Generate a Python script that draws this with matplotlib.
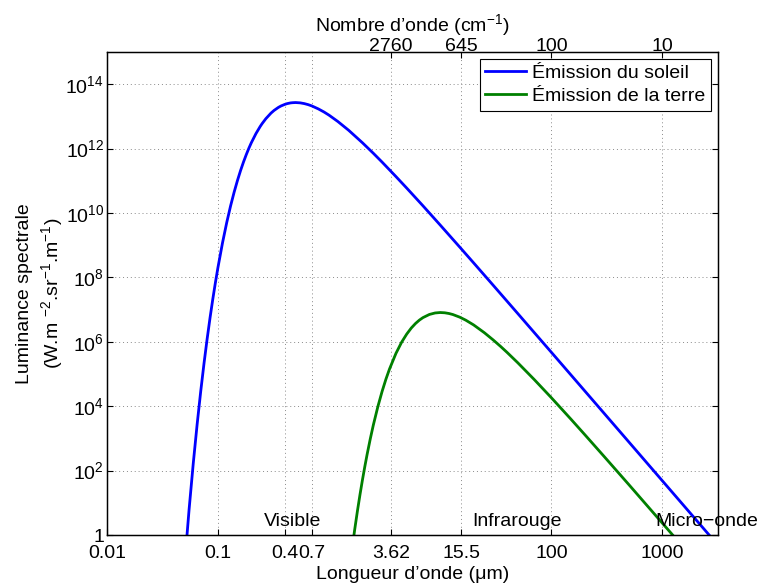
import matplotlib
matplotlib.use("Agg")
import matplotlib.pyplot as plt
from matplotlib.ticker import FixedLocator, FixedFormatter, NullLocator

plt.rcParams['font.family'] = ['Liberation Sans', 'DejaVu Sans']
plt.rcParams['mathtext.fontset'] = 'custom'
plt.rcParams['mathtext.rm'] = 'Liberation Sans'
plt.rcParams['mathtext.it'] = 'Liberation Sans:italic'
plt.rcParams['mathtext.bf'] = 'Liberation Sans:bold'

# Sun emission (T ~ 5800 K), wavelength in micrometres, radiance in W.m-2.sr-1.m-1
sun_wl = [0.05, 0.055, 0.06, 0.065, 0.07, 0.075, 0.08, 0.085, 0.09, 0.095, 0.1,
          0.11, 0.12, 0.13, 0.14, 0.15, 0.16, 0.17, 0.18, 0.19, 0.2, 0.22, 0.24,
          0.25, 0.27, 0.3, 0.32, 0.35, 0.37, 0.4, 0.42, 0.45, 0.47, 0.5, 0.55, 0.6,
          0.65, 0.7, 0.8, 0.9, 1.0, 1.2, 1.5, 2, 2.5, 3, 4, 5, 7, 10, 15, 20, 30,
          50, 70, 100, 150, 200, 300, 500, 1000, 1500, 2000, 3000]
sun_L = [0.108, 6.11, 169, 2730, 2.88e4, 2.17e5, 1.24e6, 5.68e6, 2.16e7, 7.03e7,
         2.01e8, 1.19e9, 5.04e9, 1.66e10, 4.47e10, 1.03e11, 2.10e11, 3.86e11,
         6.52e11, 1.03e12, 1.53e12, 2.93e12, 4.85e12, 5.98e12, 8.49e12, 1.26e13,
         1.53e13, 1.90e13, 2.11e13, 2.36e13, 2.49e13, 2.62e13, 2.66e13, 2.69e13,
         2.63e13, 2.49e13, 2.31e13, 2.11e13, 1.71e13, 1.37e13, 1.09e13, 6.93e12,
         3.71e12, 1.51e12, 7.18e11, 3.81e11, 1.35e11, 5.93e10, 1.67e10, 4.23e9,
         8.72e8, 2.82e8, 5.69e7, 7.49e6, 1.96e6, 4.74e5, 9.40e4, 2.98e4, 5.90e3,
         766, 47.9, 9.47, 3.00, 0.593]

# Earth emission (T ~ 288 K)
earth_wl = [1.6, 1.7, 1.8, 1.9, 2, 2.1, 2.2, 2.35, 2.5, 2.75, 3, 3.25, 3.5, 4, 4.5,
            5, 5.5, 6, 6.5, 7, 8, 9, 10, 11, 12, 13, 15, 17, 20, 25, 30, 35, 40,
            50, 70, 100, 150, 200, 300, 500, 1000, 1500]
earth_L = [0.313, 1.45, 5.57, 18.3, 52.8, 136, 318, 972, 2.56e3, 9.76e3, 2.87e4,
           6.93e4, 1.43e5, 4.38e5, 9.74e5, 1.74e6, 2.69e6, 3.71e6, 4.72e6, 5.64e6,
           7.07e6, 7.86e6, 8.11e6, 7.96e6, 7.56e6, 7.03e6, 5.82e6, 4.69e6, 3.34e6,
           1.91e6, 1.14e6, 7.16e5, 4.68e5, 2.22e5, 6.80e4, 1.84e4, 3.97e3, 1.31e3,
           270, 36.3, 2.32, 0.463]

xticks = [0.01, 0.1, 0.4, 0.7, 3.62, 15.5, 100, 1000]
xtick_labels = ['0.01', '0.1', '0.4', '0.7', '3.62', '15.5', '100', '1000']
wavenumbers = [2760, 645, 100, 10]
wavenumber_labels = ['2760', '645', '100', '10']
yticks = [1, 1e2, 1e4, 1e6, 1e8, 1e10, 1e12, 1e14]
ytick_labels = ['1'] + [r'$10^{%d}$' % e for e in [2, 4, 6, 8, 10, 12, 14]]

region_labels = ['Visible', 'Infrarouge', 'Micro\u2212onde']
region_x = [0.47, 49, 2500]

fs = 14
fig = plt.figure(figsize=(7.59, 5.86), dpi=100)
ax = fig.add_axes([0.1407, 0.0870, 0.8053, 0.8243])
ax.set_xscale('log')
ax.set_yscale('log')
ax.plot(sun_wl, sun_L, color=(0, 0, 1), lw=2, label='Émission du soleil')
ax.plot(earth_wl, earth_L, color=(0, 0.5, 0), lw=2, label='Émission de la terre')
ax.set_xlim(0.01, 10 ** 3.5)
ax.set_ylim(1, 1e15)

ax.xaxis.set_major_locator(FixedLocator(xticks))
ax.xaxis.set_major_formatter(FixedFormatter(xtick_labels))
ax.xaxis.set_minor_locator(NullLocator())
ax.yaxis.set_major_locator(FixedLocator(yticks))
ax.yaxis.set_major_formatter(FixedFormatter(ytick_labels))
ax.yaxis.set_minor_locator(NullLocator())
ax.tick_params(axis='both', which='major', direction='in', length=4, width=0.8,
               labelsize=fs, pad=2)
ax.tick_params(axis='x', pad=7)
ax.tick_params(axis='y', right=True)
ax.grid(True, which='major', linestyle=(0, (1, 3)), color='#8a8a8a', lw=0.7)

for sp in ax.spines.values():
    sp.set_linewidth(1.0)

ax.set_xlabel('Longueur d\u2019onde (\u03bcm)', fontsize=fs, labelpad=3)
ax.set_ylabel('Luminance spectrale\n(W.m $^{-2}$.sr$^{-1}$.m$^{-1}$)', fontsize=fs,
              linespacing=1.35)
ax.yaxis.set_label_coords(-0.068, 0.5)

for txt, xv in zip(region_labels, region_x):
    ax.text(xv, 1.9, txt, ha='center', va='baseline', fontsize=fs, clip_on=False)

ax2 = ax.twiny()
ax2.set_xscale('log')
ax2.set_xlim(ax.get_xlim())
ax2.xaxis.set_major_locator(FixedLocator([1e4 / w for w in wavenumbers]))
ax2.xaxis.set_major_formatter(FixedFormatter(wavenumber_labels))
ax2.xaxis.set_minor_locator(NullLocator())
ax2.tick_params(axis='x', direction='in', length=4, width=0.8, labelsize=fs, pad=-2.5)
ax2.set_xlabel('Nombre d\u2019onde (cm$^{-1}$)', fontsize=fs, labelpad=5)

leg = ax.legend(loc='upper right', fontsize=fs, frameon=True, fancybox=False,
                edgecolor='black', framealpha=1, handlelength=2.1,
                borderaxespad=0.35, borderpad=0.3, labelspacing=0.25,
                handletextpad=0.3)
leg.get_frame().set_linewidth(0.8)

fig.savefig('out.png', dpi=100)
